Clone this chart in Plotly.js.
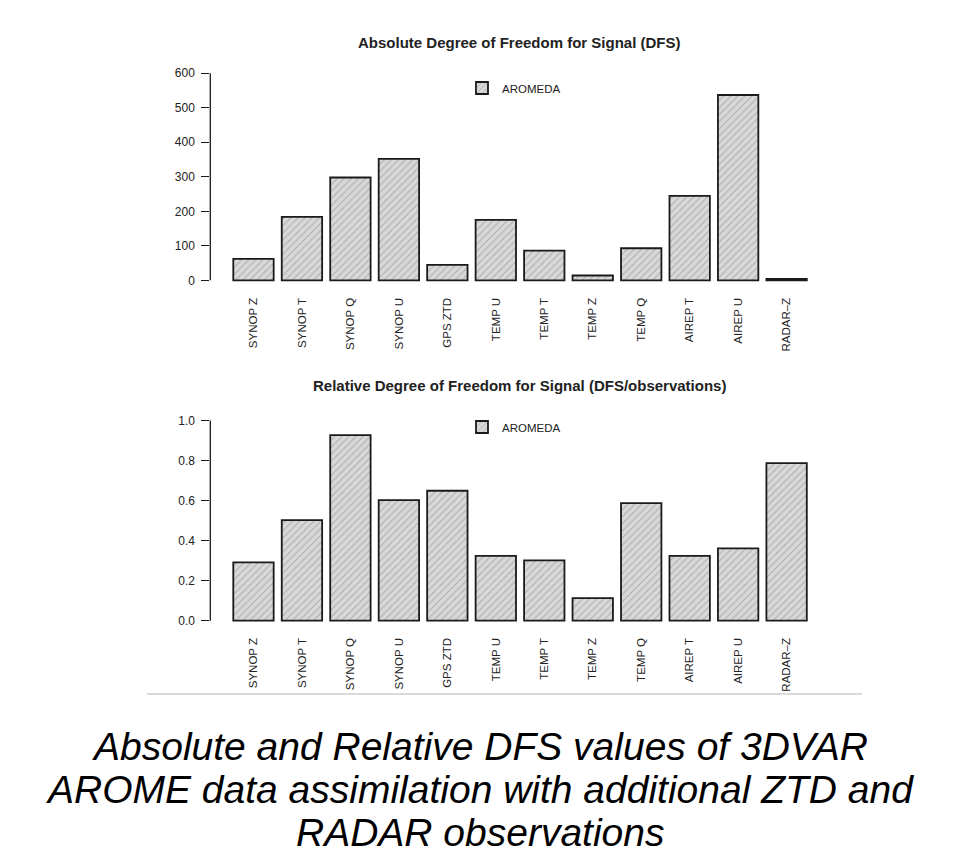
<!DOCTYPE html>
<html>
<head>
<meta charset="utf-8">
<script src="https://cdn.plot.ly/plotly-3.0.1.min.js"></script>
<style>
html,body{margin:0;padding:0;background:#fff;}
#chart{width:959px;height:856px;}
</style>
</head>
<body>
<div id="chart"></div>
<script>
// ---- data ----
const categories = ["SYNOP Z","SYNOP T","SYNOP Q","SYNOP U","GPS ZTD","TEMP U","TEMP T","TEMP Z","TEMP Q","AIREP T","AIREP U","RADAR–Z"];
const absoluteDFS = [62, 184, 298, 352, 45, 175, 86, 14, 93, 245, 537, 4];
const relativeDFS = [0.291, 0.502, 0.927, 0.602, 0.649, 0.324, 0.301, 0.113, 0.587, 0.324, 0.361, 0.787];
const seriesName = "AROMEDA";
const absTitle = "Absolute Degree of Freedom for Signal (DFS)";
const relTitle = "Relative Degree of Freedom for Signal (DFS/observations)";
const absTicks = [0, 100, 200, 300, 400, 500, 600];
const relTicks = [0, 0.2, 0.4, 0.6, 0.8, 1.0];
const relTickText = ["0.0","0.2","0.4","0.6","0.8","1.0"];
const captionLines = ["Absolute and Relative DFS values of 3DVAR",
                      "AROME data assimilation with additional ZTD and",
                      "RADAR observations"];

// ---- style ----
const W = 959, H = 856;
const FONT = "Liberation Sans, Arial, sans-serif";
const TXT = "#222";
const px = v => v / W;
const py = v => 1 - v / H;

const barMarker = {
  color: "#d4d4d4",
  line: {color: "#1a1a1a", width: 1.8},
  pattern: {shape: "/", fgcolor: "#a9a9a9", bgcolor: "#d8d8d8", size: 5, solidity: 0.18}
};

const traces = [
  {type: "bar", x: categories, y: absoluteDFS, name: seriesName, xaxis: "x", yaxis: "y",
   marker: barMarker, legend: "legend", hoverinfo: "x+y"},
  {type: "bar", x: categories, y: relativeDFS, name: seriesName, xaxis: "x2", yaxis: "y2",
   marker: barMarker, legend: "legend2", hoverinfo: "x+y"}
];

const xl = 210.3, xr = 829.6;
const xRange = [-0.891, 11.887];

function xaxis(anchor, domain) {
  return {
    domain: domain, anchor: anchor, type: "category", range: xRange,
    showline: false, showgrid: false, zeroline: false, ticks: "",
    tickangle: -90, ticklabelstandoff: 6,
    tickfont: {family: FONT, size: 11.5, color: TXT}, fixedrange: true
  };
}
function yaxis(anchor, domain, range, vals, text) {
  return {
    domain: domain, anchor: anchor, range: range,
    tickmode: "array", tickvals: vals, ticktext: text,
    showline: false, showgrid: false, zeroline: false,
    ticks: "outside", ticklen: 8, tickwidth: 1.3, tickcolor: "#1a1a1a",
    ticklabelstandoff: 4,
    tickfont: {family: FONT, size: 12, color: TXT}, fixedrange: true
  };
}

const yTopDom = [py(288.6), py(65.0)];
const yBotDom = [py(628.7), py(412.5)];

const layout = {
  width: W, height: H,
  margin: {l: 0, r: 0, t: 0, b: 0},
  paper_bgcolor: "#fff", plot_bgcolor: "#fff",
  bargap: 1 - 1/1.2,
  showlegend: true,
  xaxis: xaxis("y", [px(xl), px(xr)]),
  yaxis: yaxis("x", yTopDom, [-24, 624], absTicks, absTicks.map(String)),
  xaxis2: xaxis("y2", [px(xl), px(xr)]),
  yaxis2: yaxis("x2", yBotDom, [-0.04, 1.04], relTicks, relTickText),
  legend: {x: px(462), y: py(88), xanchor: "left", yanchor: "middle",
           bgcolor: "rgba(0,0,0,0)", font: {family: FONT, size: 11.5, color: TXT}},
  legend2: {x: px(462), y: py(427), xanchor: "left", yanchor: "middle",
            bgcolor: "rgba(0,0,0,0)", font: {family: FONT, size: 11.5, color: TXT}},
  shapes: [
    {type: "line", xref: "x domain", yref: "y", x0: 0, x1: 0, y0: absTicks[0], y1: absTicks[absTicks.length-1],
     line: {color: "#1a1a1a", width: 1.3}},
    {type: "line", xref: "x2 domain", yref: "y2", x0: 0, x1: 0, y0: relTicks[0], y1: relTicks[relTicks.length-1],
     line: {color: "#1a1a1a", width: 1.3}},
    {type: "line", xref: "paper", yref: "paper", x0: px(147), x1: px(862), y0: py(694), y1: py(694),
     line: {color: "#b5b5b5", width: 1}}
  ],
  annotations: [
    {text: "<b>" + absTitle + "</b>", xref: "paper", yref: "paper", x: px((xl+xr)/2), y: py(43),
     xanchor: "center", yanchor: "middle", showarrow: false, font: {family: FONT, size: 15, color: TXT}},
    {text: "<b>" + relTitle + "</b>", xref: "paper", yref: "paper", x: px((xl+xr)/2), y: py(385),
     xanchor: "center", yanchor: "middle", showarrow: false, font: {family: FONT, size: 15, color: TXT}}
  ].concat(captionLines.map((t, i) => ({
     text: "<i>" + t + "</i>", xref: "paper", yref: "paper", x: 0.5, y: py(746 + i*43),
     xanchor: "center", yanchor: "middle", showarrow: false,
     font: {family: FONT, size: 39, color: "#000"}
  })))
};

Plotly.newPlot("chart", traces, layout, {displayModeBar: false, staticPlot: true});
</script>
</body>
</html>
